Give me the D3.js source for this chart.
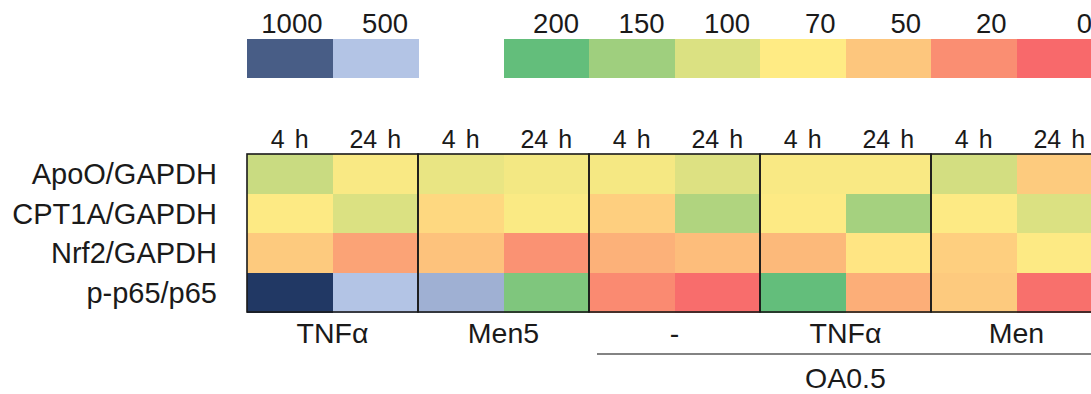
<!DOCTYPE html>
<html>
<head>
<meta charset="utf-8">
<script src="https://cdn.jsdelivr.net/npm/d3@7/dist/d3.min.js"></script>
<style>
  html, body { margin: 0; padding: 0; background: #fff; }
  svg { display: block; font-family: "Liberation Sans", Arial, sans-serif; }
  text { fill: #1a1a1a; }
</style>
</head>
<body>
<svg id="chart" width="1091" height="394"></svg>
<script>
// Row markers (protein ratios) and column structure
const markers = ["ApoO/GAPDH", "CPT1A/GAPDH", "Nrf2/GAPDH", "p-p65/p65"];
const treatments = ["TNFα", "Men5", "-", "TNFα", "Men"];
const timepoints = ["4 h", "24 h"];
const pretreatLabel = "OA0.5";
const pretreatGroups = [2, 3, 4]; // treatments that share the OA0.5 bracket

// Relative levels per marker, ordered treatment by treatment, 4 h then 24 h
const apoO  = [115, 75, 88, 80, 78, 98, 75, 75, 107, 53];
const cpt1a = [72, 100, 60, 74, 55, 136, 72, 145, 72, 100];
const nrf2  = [52, 31, 48, 22, 39, 45, 43, 67, 55, 72];
const pP65  = [1180, 500, 595, 177, 18, 2, 200, 37, 52, 4];
const values = [apoO, cpt1a, nrf2, pP65];

// Colour key entries
const keyHigh = [1000, 500];
const keyLow = [200, 150, 100, 70, 50, 20, 0];

// Colour scales: red-yellow-green up to 200, blue shades above
const warm = d3.scaleLinear().domain([0, 70, 200])
  .range(["#F8696B", "#FFEB84", "#63BE7B"]).clamp(true);
const cool = d3.scaleLinear().domain([500, 1000])
  .range(["#b3c4e5", "#485d86"]);
const colour = v => v > 200 ? cool(v) : warm(v);

const svg = d3.select("#chart");

const columns = [];
treatments.forEach((t, gi) => timepoints.forEach((tp, ti) => columns.push({ gi, ti, tp })));

const x = d3.scaleBand().domain(d3.range(columns.length)).range([247, 1102]).padding(0);
const y = d3.scaleBand().domain(d3.range(markers.length)).range([154, 312]).padding(0);
const bw = x.bandwidth();

// ---- Colour key ----
const keyItems = [];
keyHigh.forEach((v, i) => keyItems.push({ v, slot: i }));
keyLow.forEach((v, i) => keyItems.push({ v, slot: keyHigh.length + 1 + i }));

const key = svg.append("g");
key.selectAll("rect").data(keyItems).join("rect")
  .attr("x", d => x(d.slot))
  .attr("y", 39)
  .attr("width", bw + 0.5)
  .attr("height", 39)
  .attr("fill", d => colour(d.v))
  .attr("shape-rendering", "crispEdges");
key.selectAll("text").data(keyItems).join("text")
  .attr("x", d => x(d.slot) + bw - 10)
  .attr("y", 33)
  .attr("text-anchor", "end")
  .attr("font-size", 27.5)
  .text(d => d.v);

// ---- Heatmap cells ----
const cells = [];
values.forEach((row, ri) => row.forEach((v, ci) => cells.push({ ri, ci, v })));
svg.append("g").selectAll("rect").data(cells).join("rect")
  .attr("x", d => x(d.ci))
  .attr("y", d => y(d.ri))
  .attr("width", bw + 0.5)
  .attr("height", y.bandwidth() + 0.5)
  .attr("fill", d => colour(d.v))
  .attr("shape-rendering", "crispEdges");

// Group outlines
svg.append("g").selectAll("rect").data(treatments).join("rect")
  .attr("x", (d, i) => x(i * 2))
  .attr("y", y(0))
  .attr("width", bw * 2)
  .attr("height", y.range()[1] - y(0))
  .attr("fill", "none")
  .attr("stroke", "#1a1a1a")
  .attr("stroke-width", 1.6);

// Time labels above columns
svg.append("g").selectAll("text").data(columns).join("text")
  .attr("x", (d, i) => x(i) + bw / 2)
  .attr("y", 148)
  .attr("text-anchor", "middle")
  .attr("font-size", 25)
  .attr("word-spacing", 3)
  .text(d => d.tp);

// Row labels
svg.append("g").selectAll("text").data(markers).join("text")
  .attr("x", 217)
  .attr("y", (d, i) => y(i) + y.bandwidth() / 2 + 10.5)
  .attr("text-anchor", "end")
  .attr("font-size", 29)
  .text(d => d);

// Treatment labels below
svg.append("g").selectAll("text").data(treatments).join("text")
  .attr("x", (d, i) => x(i * 2) + bw)
  .attr("y", 343)
  .attr("text-anchor", "middle")
  .attr("font-size", 28.5)
  .text(d => d);

// OA0.5 bracket
const bx0 = x(pretreatGroups[0] * 2) + 8;
const bx1 = x(pretreatGroups[pretreatGroups.length - 1] * 2) + bw * 2;
svg.append("line")
  .attr("x1", bx0).attr("x2", bx1)
  .attr("y1", 354).attr("y2", 354)
  .attr("stroke", "#5a5a5a")
  .attr("stroke-width", 1.6);
svg.append("text")
  .attr("x", (x(pretreatGroups[0] * 2) + bx1) / 2)
  .attr("y", 388)
  .attr("text-anchor", "middle")
  .attr("font-size", 28.5)
  .text(pretreatLabel);
</script>
</body>
</html>
